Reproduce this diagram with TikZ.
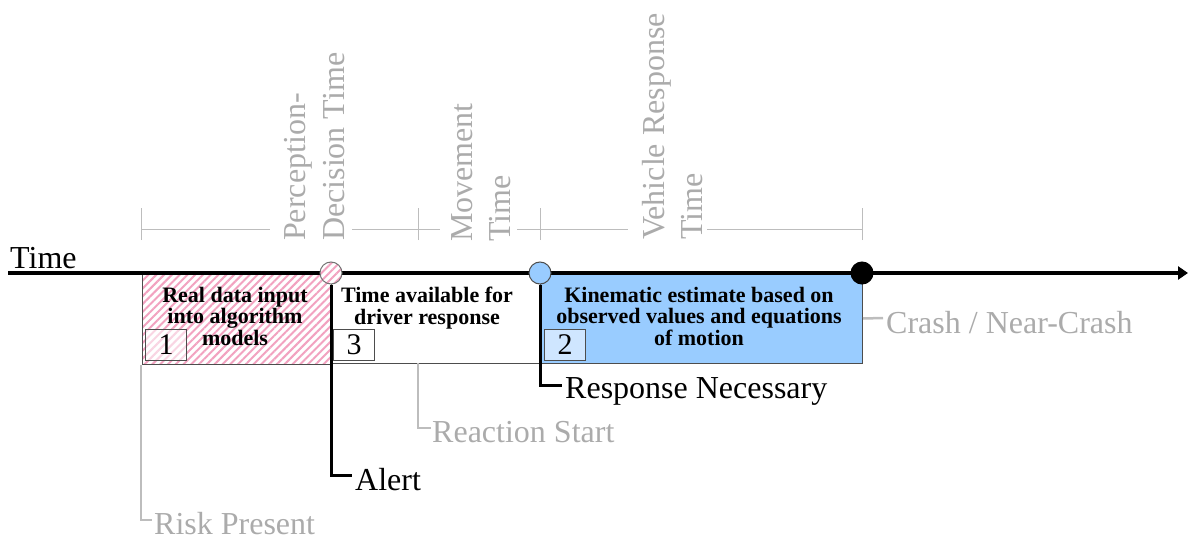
\documentclass[tikz,border=0pt]{standalone}
\usepackage{fontspec}
\setmainfont{Liberation Serif}
\usetikzlibrary{patterns.meta,arrows.meta}

\definecolor{hatchpink}{HTML}{F2A2C0}
\definecolor{boxblue}{HTML}{99CCFF}
\definecolor{numblue}{HTML}{CFE6FF}
\definecolor{ltgray}{HTML}{BDBDBD}
\definecolor{txtgray}{HTML}{ABABAB}
\definecolor{edge}{HTML}{4D4D4D}

\tikzset{
  boxedge/.style={draw=edge, line width=1pt},
  hatch/.style={pattern={Lines[angle=45,distance=5.5pt,line width=2pt]}, pattern color=hatchpink},
  period/.style={rectangle, boxedge, minimum height=90pt, inner sep=0pt, anchor=north west},
  numbox/.style={rectangle, boxedge, minimum width=41pt, minimum height=31pt, inner sep=0pt,
                 anchor=north west, font=\fontsize{30}{30}\selectfont},
  boxtxt/.style={align=center, inner sep=0pt, anchor=north, font=\fontsize{22}{21.5}\selectfont\bfseries},
  lbl/.style={inner sep=0pt, anchor=base west, font=\fontsize{32}{32}\selectfont},
  vlbl/.style={lbl, rotate=90, text=txtgray},
  brk/.style={draw=ltgray, line width=1pt},
  leadgray/.style={draw=ltgray, line width=2.5pt},
  leadblack/.style={draw=black, line width=3pt},
  event/.style={circle, minimum size=22pt, inner sep=0pt, draw=edge, line width=1pt},
}

\begin{document}
\begin{tikzpicture}[x=1pt,y=-1pt]
\useasboundingbox (0,0) rectangle (1188,540);

% interval boxes under the time axis
\node[period, hatch, preaction={fill=white}, minimum width=190pt] (b1) at (141,273) {};
\node[period, fill=white, minimum width=209pt] (b3) at (331,273) {};
\node[period, fill=boxblue, minimum width=322pt] (b2) at (540,273) {};

\node[boxtxt] (t1) at (235,287) {Real data input\\into algorithm\\models};
\node[boxtxt] (t3) at (427,287) {Time available for\\driver response};
\node[boxtxt] (t2) at (699,287) {Kinematic estimate based on\\observed values and equations\\of motion};

\node[numbox, hatch, pattern color=hatchpink!45, preaction={fill=white}] (n1) at (145,329) {1};
\node[numbox, fill=white] (n3) at (333,329) {3};
\node[numbox, fill=numblue] (n2) at (544,329) {2};

% dimension bracket above the axis
\coordinate (k1) at (141,229); \coordinate (k2) at (418,229);
\coordinate (k3) at (540,229); \coordinate (k4) at (862,229);
\foreach \k in {k1,k2,k3,k4} \draw[brk] ([yshift=-11pt]\k) -- ([yshift=21pt]\k);
\draw[brk] (k1) -- (270,229);
\draw[brk] (352,229) -- (440,229);
\draw[brk] (517,229) -- (628,229);
\draw[brk] (707,229) -- (k4);

\node[vlbl] (pd1) at (305,241) {Perception-};
\node[vlbl] (pd2) at (344,241) {Decision Time};
\node[vlbl] (mv1) at (472,242) {Movement};
\node[vlbl] (mv2) at (510,242) {Time};
\node[vlbl] (vr1) at (664,240) {Vehicle Response};
\node[vlbl] (vr2) at (702,240) {Time};

% time axis
\coordinate (tstart) at (8,273);
\coordinate (tend) at (1188,273);
\draw[line width=4pt, -{Triangle[length=10pt,width=13pt]}] (tstart) -- (tend);
\node[lbl] (tl) at (10,268) {Time};

% event markers
\node[event, hatch, preaction={fill=white}, draw=black!55] (c1) at (331,273) {};
\node[event, fill=boxblue] (c2) at (540,273) {};
\node[event, fill=black, draw=black] (c3) at (862,273) {};

% leaders to event labels
\coordinate (riskhook) at (152,520);
\coordinate (alerthook) at (352,475);
\coordinate (rsfoot) at (418,363);
\coordinate (rshook) at (431,428);
\coordinate (rnhook) at (562,385);
\coordinate (crashhook) at (883,318);

\draw[leadgray] (b1.south west) |- (riskhook);
\draw[leadblack] (c1.south) |- (alerthook);
\draw[leadgray] (rsfoot) |- (rshook);
\draw[leadblack] (c2.south) |- (rnhook);
\draw[leadgray] (b2.east) -- (crashhook);

\node[lbl, text=txtgray] (risk) at (154,534) {Risk Present};
\node[lbl] (alert) at (355,490) {Alert};
\node[lbl, text=txtgray] (react) at (432,442) {Reaction Start};
\node[lbl] (resp) at (565,398) {Response Necessary};
\node[lbl, text=txtgray] (crash) at (886,333) {Crash / Near-Crash};
\end{tikzpicture}
\end{document}
